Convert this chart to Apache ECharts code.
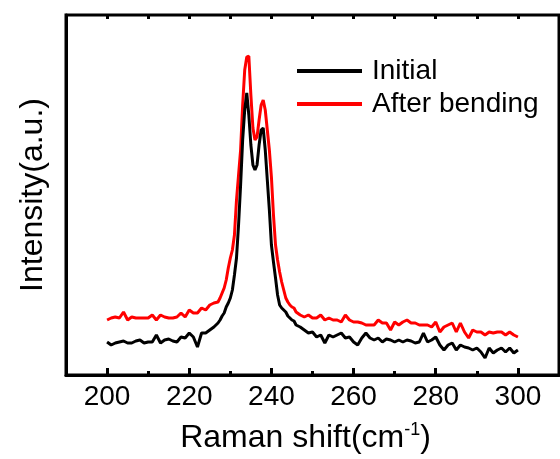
<!DOCTYPE html>
<html>
<head>
<meta charset="utf-8">
<script src="https://cdn.jsdelivr.net/npm/echarts@6/dist/echarts.min.js"></script>
<style>
  html, body { margin: 0; padding: 0; background: #fff; }
  #chart { width: 560px; height: 459px; }
</style>
</head>
<body>
<div id="chart"></div>
<script>
// Raman shift (cm-1): 1 cm-1 steps in the baseline, 0.5 cm-1 steps across the peak
var shift = [
  200, 201, 202, 203, 204, 205, 206, 207, 208, 209, 210, 211, 212, 213, 214, 215, 216, 217, 218, 219,
  220, 221, 222, 223, 224, 225, 226, 227,
  227.5, 228, 228.5, 229, 229.5, 230, 230.5, 231, 231.5, 232, 232.5, 233, 233.5, 234, 234.5, 235,
  235.5, 236, 236.5, 237, 237.5, 238, 238.5, 239, 239.5, 240, 240.5, 241, 241.5, 242, 242.5, 243,
  243.5, 244, 244.5, 245, 245.5, 246,
  247, 248, 249, 250, 251, 252, 253, 254, 255, 256, 257, 258, 259, 260, 261, 262, 263, 264, 265, 266,
  267, 268, 269, 270, 271, 272, 273, 274, 275, 276, 277, 278, 279, 280, 281, 282, 283, 284, 285, 286,
  287, 288, 289, 290, 291, 292, 293, 294, 295, 296, 297, 298, 299, 300
];

// 初始状态
var initial = [
  33, 30, 32, 33, 34, 32, 32, 34, 35, 32, 33, 33, 40, 32, 35, 36, 34, 33, 38, 37,
  42, 38, 28, 42, 42, 45, 48, 52,
  55, 59, 62, 68, 72, 77, 85, 100, 117, 150, 190, 235, 265, 282, 260, 230,
  210, 205, 210, 230, 245, 247, 225, 195, 165, 130, 113, 97, 80, 70, 67, 65,
  63, 59, 57, 55, 54, 50,
  48, 45, 42, 43, 38, 40, 32, 40, 38, 40, 42, 37, 38, 33, 30, 37, 42, 37, 35, 37,
  33, 36, 35, 33, 35, 33, 35, 34, 32, 33, 42, 33, 35, 38, 30, 25, 30, 32, 25, 30,
  28, 27, 25, 27, 23, 17, 27, 22, 25, 27, 23, 27, 22, 25
];

// 弯曲之后
var bent = [
  55, 57, 58, 57, 63, 55, 58, 57, 57, 57, 57, 60, 55, 60, 58, 57, 57, 58, 62, 58,
  65, 62, 62, 67, 65, 70, 72, 73,
  77, 82, 87, 95, 107, 117, 125, 140, 175, 200, 225, 270, 305, 318, 319, 280,
  247, 235, 238, 255, 270, 275, 265, 245, 225, 198, 160, 130, 115, 103, 93, 85,
  77, 73, 70, 68, 67, 63,
  60, 58, 60, 57, 57, 60, 55, 57, 55, 55, 53, 60, 55, 53, 53, 52, 50, 50, 50, 55,
  52, 52, 45, 53, 50, 53, 55, 52, 52, 50, 50, 50, 48, 53, 43, 48, 50, 52, 43, 52,
  43, 37, 45, 43, 43, 40, 43, 42, 43, 43, 40, 43, 40, 38
];

var seriesNames = ['Initial', 'After bending'];
var seriesColors = ['#000000', '#ff0000'];

// tick positions
var tickLabels = [200, 220, 240, 260, 280, 300];
var minorTicks = [210, 230, 250, 270, 290];
var topTicks = [200, 210, 220, 230, 240, 250, 260, 270, 280, 290, 300];

var yMin = 0, yMax = 360;

function pairs(ys) {
  return shift.map(function (x, i) { return [x, ys[i]]; });
}

// 刻度线（向内）
function tickSegs(values, yFrom, len) {
  return values.map(function (v) {
    return [{ coord: [v, yFrom] }, { coord: [v, yFrom + len] }];
  });
}

var tickMarks = []
  .concat(tickSegs(tickLabels, yMin, 7))
  .concat(tickSegs(minorTicks, yMin, 4))
  .concat(tickSegs(topTicks, yMax, -4));

var font = 'Liberation Sans, Arial, sans-serif';
var myChart = echarts.init(document.getElementById('chart'));

var option = {
  animation: false,
  // 外框
  grid: { left: 66, right: 1, top: 15, bottom: 84, show: true, borderColor: '#000', borderWidth: 3, backgroundColor: 'transparent' },
  legend: {
    orient: 'vertical',
    left: 292,
    top: 52,
    itemWidth: 65,
    itemHeight: 4,
    itemGap: 5,
    icon: 'rect',
    textStyle: { fontFamily: font, fontSize: 28, color: '#000', padding: [0, 0, 0, 5] },
    data: seriesNames
  },
  xAxis: [{
    type: 'value',
    min: 190,
    max: 310,
    name: 'Raman shift(cm{sup|-1})',
    nameLocation: 'middle',
    nameGap: 46,
    nameTextStyle: {
      fontFamily: font, fontSize: 32, color: '#000', padding: [0, 14, 0, 0],
      rich: { sup: { fontFamily: font, fontSize: 18, color: '#000', verticalAlign: 'top', padding: [0, 0, 16, 0] } }
    },
    axisLine: { show: true, onZero: false, lineStyle: { color: '#000', width: 3 } },
    axisTick: { show: false },
    axisLabel: { fontFamily: font, fontSize: 28, color: '#000', margin: 8, customValues: tickLabels },
    splitLine: { show: false }
  }],
  yAxis: [{
    type: 'value',
    min: yMin,
    max: yMax,
    name: 'Intensity(a.u.)',
    nameLocation: 'middle',
    nameGap: 17,
    nameTextStyle: { fontFamily: font, fontSize: 32, color: '#000' },
    axisLine: { show: true, onZero: false, lineStyle: { color: '#000', width: 3 } },
    axisTick: { show: false },
    axisLabel: { show: false },
    splitLine: { show: false }
  }],
  series: [{
    name: seriesNames[0],
    type: 'line',
    data: pairs(initial),
    symbol: 'none',
    color: seriesColors[0],
    lineStyle: { width: 3, color: seriesColors[0] },
    z: 3,
    markLine: {
      silent: true,
      symbol: 'none',
      animation: false,
      label: { show: false },
      lineStyle: { color: '#000', width: 3, type: 'solid' },
      emphasis: { disabled: true },
      data: tickMarks
    }
  }, {
    name: seriesNames[1],
    type: 'line',
    data: pairs(bent),
    symbol: 'none',
    color: seriesColors[1],
    lineStyle: { width: 3, color: seriesColors[1] },
    z: 2
  }]
};
// 使用刚指定的配置项和数据显示图表。
myChart.setOption(option);
</script>
</body>
</html>
